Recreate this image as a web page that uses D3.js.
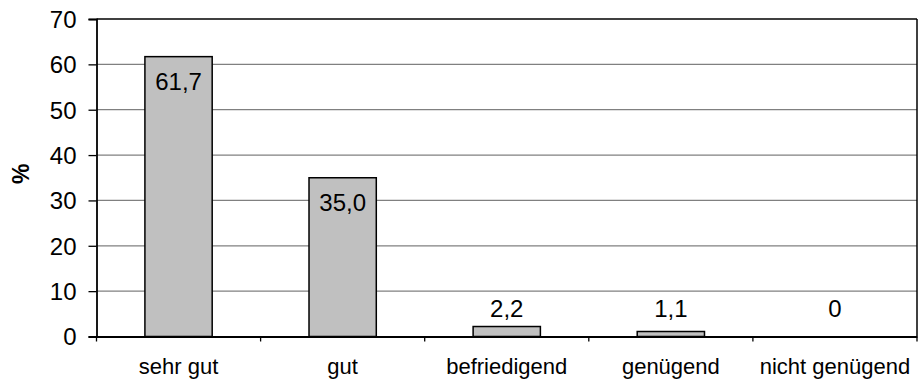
<!DOCTYPE html>
<html>
<head>
<meta charset="utf-8">
<script src="https://cdn.jsdelivr.net/npm/d3@7"></script>
<style>
  html, body { margin: 0; padding: 0; background: #fff; }
  svg { display: block; }
  text { font-family: "Liberation Sans", Arial, sans-serif; fill: #000; }
</style>
</head>
<body>
<div id="chart"></div>
<script>
const categories = ["sehr gut", "gut", "befriedigend", "genügend", "nicht genügend"];
const values = [61.7, 35.0, 2.2, 1.1, 0];
const valueLabels = ["61,7", "35,0", "2,2", "1,1", "0"];
const yTicks = [0, 10, 20, 30, 40, 50, 60, 70];
const yAxisTitle = "%";

const W = 921, H = 382;
const margin = { left: 96.5, top: 19, right: 4, bottom: 45.5 };
const iw = W - margin.left - margin.right;
const ih = H - margin.top - margin.bottom;

const svg = d3.select("#chart").append("svg").attr("width", W).attr("height", H);
const g = svg.append("g").attr("transform", `translate(${margin.left},${margin.top})`);

const x = d3.scaleBand().domain(categories).range([0, iw]).paddingInner(0.59).paddingOuter(0.295);
const y = d3.scaleLinear().domain([0, 70]).range([ih, 0]);

// gridlines
g.append("g").selectAll("line").data(yTicks.filter(t => t > 0 && t < 70)).join("line")
  .attr("x1", 0).attr("x2", iw)
  .attr("y1", d => y(d)).attr("y2", d => y(d))
  .attr("stroke", "#808080").attr("stroke-width", 1.3);

// plot border top & right
g.append("line").attr("x1", 0).attr("x2", iw).attr("y1", 0).attr("y2", 0).attr("stroke", "#000").attr("stroke-width", 1.5);
g.append("line").attr("x1", iw).attr("x2", iw).attr("y1", 0).attr("y2", ih).attr("stroke", "#000").attr("stroke-width", 1.5);

// bars
g.append("g").selectAll("rect").data(values).join("rect")
  .attr("x", (d, i) => x(categories[i]))
  .attr("y", d => y(d))
  .attr("width", x.bandwidth())
  .attr("height", d => y(0) - y(d))
  .attr("fill", "#C0C0C0")
  .attr("stroke", "#000")
  .attr("stroke-width", 1.5)
  .attr("display", d => d > 0 ? null : "none");

// value labels
g.append("g").selectAll("text").data(values).join("text")
  .attr("x", (d, i) => x(categories[i]) + x.bandwidth() / 2)
  .attr("y", d => Math.min(y(d) + 33, y(0) - 20))
  .attr("text-anchor", "middle")
  .style("font-size", "24px")
  .text((d, i) => valueLabels[i]);

// y axis
const yAxis = g.append("g").call(d3.axisLeft(y).tickValues(yTicks).tickSize(8).tickPadding(12).tickFormat(d3.format("d")));
yAxis.select(".domain").attr("stroke", "#000").attr("stroke-width", 1.8);
yAxis.selectAll(".tick line").attr("stroke", "#000").attr("stroke-width", 1.3);
yAxis.selectAll(".tick text").style("font-size", "24px").attr("font-family", null).attr("dy", "0.35em");

// x axis
const xAxis = g.append("g").attr("transform", `translate(0,${ih})`)
  .call(d3.axisBottom(x).tickSize(0).tickPadding(22));
xAxis.select(".domain").attr("stroke", "#000").attr("stroke-width", 1.8);
xAxis.selectAll(".tick text").style("font-size", "22px").attr("font-family", null).attr("dy", "0.71em");
const boundaries = d3.range(categories.length + 1).map(i => i * x.step());
xAxis.append("g").selectAll("line").data(boundaries).join("line")
  .attr("x1", d => d).attr("x2", d => d).attr("y1", 0).attr("y2", 5)
  .attr("stroke", "#000").attr("stroke-width", 1.3);

// y axis title
svg.append("text")
  .attr("transform", `translate(29,${margin.top + ih / 2 - 4}) rotate(-90)`)
  .attr("text-anchor", "middle")
  .style("font-size", "23px").style("font-weight", "bold")
  .text(yAxisTitle);
</script>
</body>
</html>
